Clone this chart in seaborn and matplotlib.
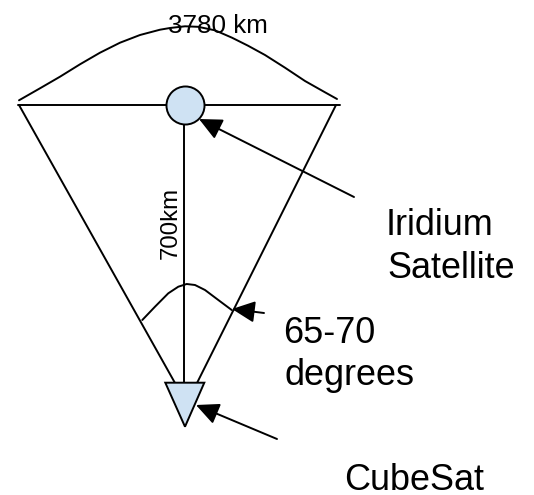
import pandas as pd
import seaborn as sns
import matplotlib
matplotlib.use('Agg')
import matplotlib.pyplot as plt

sns.set_theme(style='white')
plt.rcParams['font.family'] = ['Liberation Sans', 'DejaVu Sans']

# everything, in pixels
top_arc_x = [19, 40, 60, 80, 100, 120, 140, 160, 170, 185, 198, 215, 232, 248, 265, 285, 305, 325, 337]
top_arc_y = [100.3, 88.3, 76.7, 64.3, 52.7, 42.7, 35, 29.7, 28, 26.3, 26.8, 30.3, 37.7, 45.7, 55, 67.7, 81, 92.3, 99]
low_arc_x = [142.3, 155, 168.3, 178.3, 186.7, 195, 205, 218.3, 231.7]
low_arc_y = [320, 306.7, 293.3, 286.7, 284, 285, 290, 300, 310]

beam_x = [18, 340]
beam_y = [105, 105]
mast_x = [184, 184]
mast_y = [105, 383]
left_x = [19, 175]
left_y = [105, 383]
right_x = [336, 197]
right_y = [105, 383]

sat_x = [184.5]
sat_y = [105]
tri_x = [165.3, 204.3, 185]
tri_y = [382.7, 382.7, 426.7]

arrow_tails = [(354, 197), (264, 313), (277, 439)]
arrow_tips = [(199, 119), (232, 309), (196, 405)]

labels = ['3780 km', 'Iridium', 'Satellite', '65-70', 'degrees', 'CubeSat']
label_x = [168, 386, 387, 283, 284, 344]
label_y = [33, 235, 278, 343, 385, 490]
label_px = [26, 36, 36, 36, 36, 36]

fig = plt.figure(figsize=(5.34, 4.95), dpi=100)
ax = fig.add_axes([0, 0, 1, 1])

for xs, ys in [(top_arc_x, top_arc_y), (low_arc_x, low_arc_y), (beam_x, beam_y),
               (mast_x, mast_y), (left_x, left_y), (right_x, right_y)]:
    df = pd.DataFrame({'x': xs, 'y': ys})
    sns.lineplot(data=df, x='x', y='y', sort=False, estimator=None, color='black',
                 linewidth=1.4, ax=ax)

sns.scatterplot(x=sat_x, y=sat_y, s=750, color='#cfe2f3', edgecolor='black',
                linewidth=1.4, zorder=3, ax=ax)
ax.fill(tri_x, tri_y, facecolor='#cfe2f3', edgecolor='black', linewidth=1.4, zorder=3)

for tail, tip in zip(arrow_tails, arrow_tips):
    ax.annotate('', xy=tip, xytext=tail,
                arrowprops=dict(arrowstyle='-|>,head_length=0.7,head_width=0.33', color='black',
                                lw=1.4, mutation_scale=20, shrinkA=0, shrinkB=0))

for s, x, y, px in zip(labels, label_x, label_y, label_px):
    ax.text(x, y, s, fontsize=px * 0.72, ha='left', va='baseline', color='black')
ax.text(171, 223, '700km', fontsize=24 * 0.72, rotation=90, ha='center', va='center', color='black')

ax.set_xlim(0, 534)
ax.set_ylim(495, 0)
ax.axis('off')
fig.savefig('out.png', dpi=100)
